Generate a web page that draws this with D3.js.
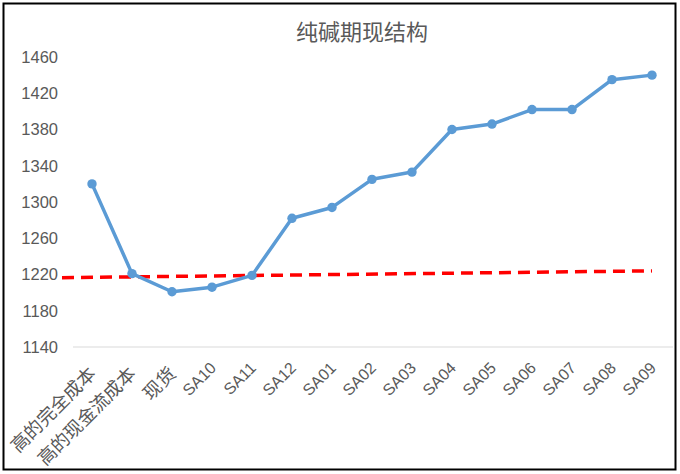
<!DOCTYPE html>
<html><head><meta charset="utf-8">
<script src="https://cdn.jsdelivr.net/npm/d3@7"></script>
<style>
body{margin:0;background:#fff;}
svg{display:block;}
</style></head>
<body><svg id="c" width="680" height="474"></svg>
<script>
const title = "纯碱期现结构";
const categories = ["高的完全成本","高的现金流成本","现货","SA10","SA11","SA12","SA01","SA02","SA03","SA04","SA05","SA06","SA07","SA08","SA09"];
const values = [1320,1221,1201,1206,1219,1282,1294,1325,1333,1380,1386,1402,1402,1435,1440];
const yTicks = [1140,1180,1220,1260,1300,1340,1380,1420,1460];
const trendPos = [-0.75, 14];
const trendValues = [1216.5, 1224];

const svg = d3.select("#c");
const font = "'Liberation Sans','Noto Sans CJK SC',Arial,sans-serif";
const cjkFont = "'Noto Sans CJK SC','Liberation Sans',sans-serif";

svg.append("rect").attr("x",3.5).attr("y",3.5).attr("width",672).attr("height",466)
  .attr("fill","#fff").attr("stroke","#000").attr("stroke-width",2);

const x = d3.scaleLinear().domain([0, categories.length-1]).range([92, 652]);
const y = d3.scaleLinear().domain([1140,1460]).range([347, 57]);

// baseline grid at 1140
svg.append("line").attr("x1",73).attr("x2",673).attr("y1",y(1140)).attr("y2",y(1140))
  .attr("stroke","#d9d9d9").attr("stroke-width",1);

// y axis labels
const yAxis = d3.axisLeft(y).tickValues(yTicks).tickSize(0).tickPadding(0).tickFormat(d3.format("d"));
const ya = svg.append("g").attr("transform","translate(58,0)").call(yAxis);
ya.select(".domain").remove();
ya.selectAll("text").attr("font-family",font).attr("font-size",16.5).attr("fill","#595959");

// x labels
const isCJK = s => /[\u4e00-\u9fff]/.test(s);
svg.append("g").selectAll("text").data(categories).join("text")
  .attr("transform",(d,i)=>`translate(${x(i)+5},${isCJK(d)?375:369}) rotate(-45)`)
  .attr("text-anchor","end")
  .attr("font-family",d=>isCJK(d)?cjkFont:font)
  .attr("font-size",d=>isCJK(d)?18.5:16)
  .attr("fill","#595959")
  .text(d=>d);

// trend line
const tl = d3.line().x(d=>x(d[0])).y(d=>y(d[1]));
svg.append("path").datum(trendPos.map((p,i)=>[p,trendValues[i]]))
  .attr("d",tl).attr("fill","none").attr("stroke","#ff0000").attr("stroke-width",3.5)
  .attr("stroke-dasharray","12,7");

// series line
const line = d3.line().x((d,i)=>x(i)).y(d=>y(d));
svg.append("path").datum(values).attr("d",line).attr("fill","none")
  .attr("stroke","#5b9bd5").attr("stroke-width",3.5).attr("stroke-linejoin","round");
svg.append("g").selectAll("circle").data(values).join("circle")
  .attr("cx",(d,i)=>x(i)).attr("cy",d=>y(d)).attr("r",4.7).attr("fill","#5b9bd5");

svg.append("text").attr("x",362).attr("y",39.5).attr("text-anchor","middle")
  .attr("font-family",cjkFont).attr("font-size",22).attr("fill","#595959").text(title);
</script></body></html>
